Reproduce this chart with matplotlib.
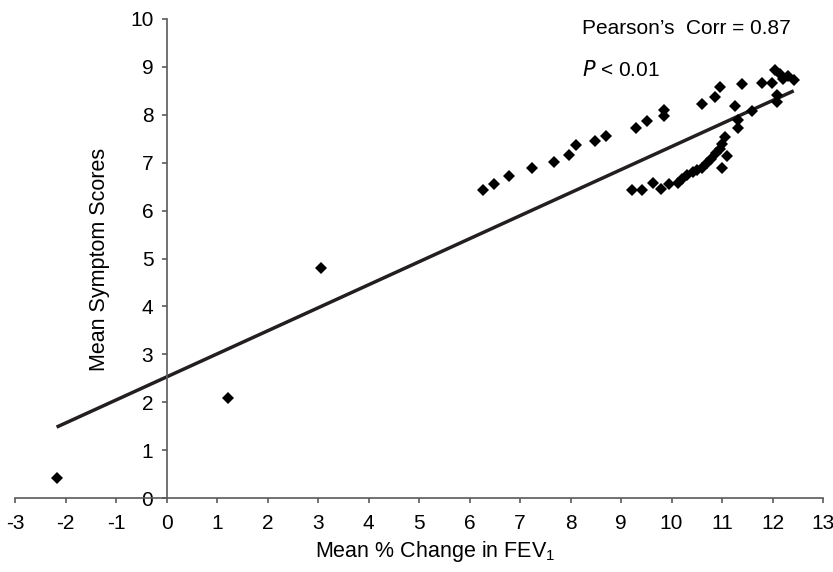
import matplotlib
matplotlib.use("Agg")
import matplotlib.pyplot as plt
import numpy as np

plt.rcParams['font.family'] = ['Liberation Sans', 'DejaVu Sans']

# Data
upper_x = [6.26, 6.49, 6.78, 7.23, 7.68, 7.97, 8.10, 8.48, 8.70, 9.29, 9.52, 9.85, 9.85,
           10.60, 10.86, 10.96, 11.25, 11.39, 11.60, 11.79, 11.98, 12.05, 12.14, 12.21,
           12.30, 12.42, 12.08, 12.08]
upper_y = [6.43, 6.56, 6.72, 6.88, 7.01, 7.16, 7.37, 7.46, 7.56, 7.72, 7.88, 7.98, 8.11,
           8.22, 8.37, 8.57, 8.18, 8.64, 8.07, 8.67, 8.66, 8.94, 8.85, 8.74,
           8.81, 8.73, 8.41, 8.27]
lower_x = [9.21, 9.41, 9.64, 9.80, 9.95, 10.13, 10.20, 10.30, 10.43, 10.50, 10.60, 10.70,
           10.79, 10.89, 10.96, 10.99, 11.06, 11.10, 10.99, 11.32, 11.32]
lower_y = [6.43, 6.43, 6.57, 6.45, 6.56, 6.57, 6.67, 6.74, 6.81, 6.85, 6.89, 6.99,
           7.07, 7.20, 7.28, 7.40, 7.54, 7.13, 6.88, 7.72, 7.89]
other_x = [-2.18, 1.22, 3.06]
other_y = [0.41, 2.08, 4.80]

fit_x = [-2.18, 12.42]
fit_y = [1.48, 8.50]

x_ticks = list(range(-3, 14))
y_ticks = list(range(0, 11))

fig = plt.figure(figsize=(8.33, 5.72), dpi=100)
ax = fig.add_axes([15.2 / 833, 1 - 498 / 572, (823 - 15.2) / 833, (498 - 19) / 572])

xs = upper_x + lower_x + other_x
ys = upper_y + lower_y + other_y
ax.plot(xs, ys, linestyle='none', marker='D', markersize=6.3, color='black',
        markeredgewidth=0, zorder=3)
ax.plot(fit_x, fit_y, color='#231f20', linewidth=2.5, solid_capstyle='butt', zorder=2)

ax.set_xlim(-3, 13)
ax.set_ylim(0, 10)
ax.set_xticks(x_ticks)
ax.set_yticks(y_ticks)
ax.set_xticklabels([str(v) for v in x_ticks])
ax.set_yticklabels([str(v) for v in y_ticks])

for s in ['top', 'right']:
    ax.spines[s].set_visible(False)
ax.spines['left'].set_position(('data', 0))
ax.spines['bottom'].set_position(('data', 0))
for s in ['left', 'bottom']:
    ax.spines[s].set_color('#5a5a5a')
    ax.spines[s].set_linewidth(1.2)
ax.tick_params(axis='both', direction='out', length=3.6, width=1.2, color='#5a5a5a',
               labelsize=15, labelcolor='black')
ax.tick_params(axis='y', pad=6.0)
ax.tick_params(axis='x', pad=8)

fig.text(100 / 833, 1 - 259 / 572, 'Mean Symptom Scores', rotation=90,
         ha='center', va='center', fontsize=15.5)
fig.text(435 / 833, 1 - 551 / 572, 'Mean % Change in FEV$_{\\mathregular{1}}$',
         ha='center', va='center', fontsize=15.5)

ax.text(8.22, 9.81, 'Pearson\u2019s  Corr = 0.87', ha='left', va='center', fontsize=15)
ax.text(8.22, 8.94, '$\\it{P}$ < 0.01', ha='left', va='center', fontsize=15)

fig.savefig('out.png', dpi=100)
